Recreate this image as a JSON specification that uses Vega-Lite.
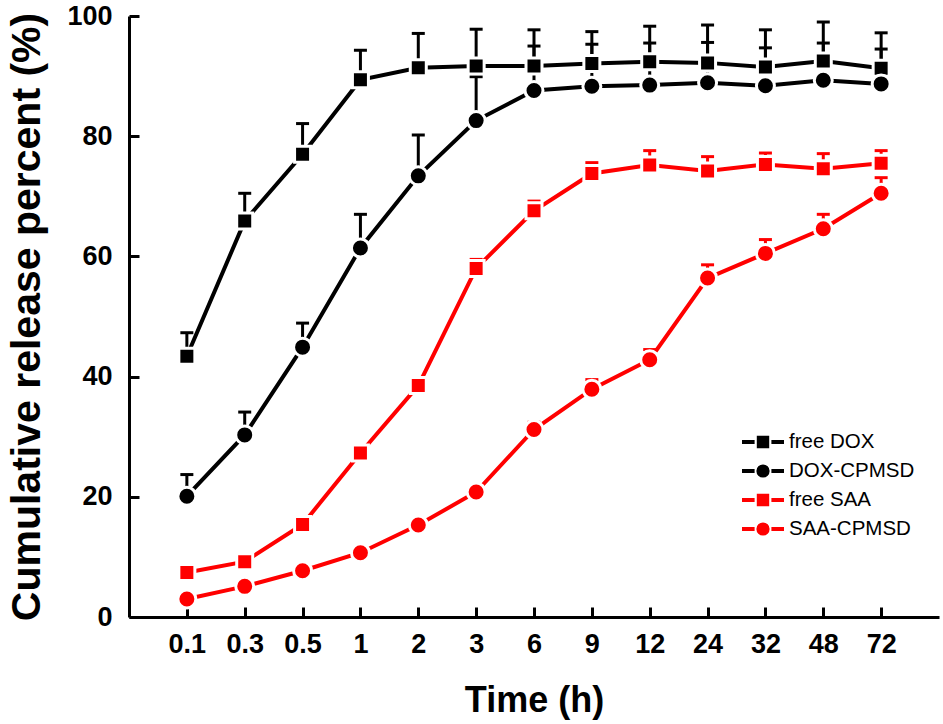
{
  "$schema": "https://vega.github.io/schema/vega-lite/v6.json",
  "width": 810,
  "height": 601,
  "autosize": {"type": "none"},
  "padding": {"left": 129, "top": 16, "right": 4, "bottom": 107},
  "background": "white",
  "config": {"view": {"stroke": null}, "font": "Liberation Sans"},
  "data": {
    "values": [
      {"time": "0.1", "series": "free DOX", "value": 43.4, "hi": 47.3},
      {"time": "0.3", "series": "free DOX", "value": 65.9, "hi": 70.5},
      {"time": "0.5", "series": "free DOX", "value": 77.0, "hi": 82.1},
      {"time": "1", "series": "free DOX", "value": 89.4, "hi": 94.3},
      {"time": "2", "series": "free DOX", "value": 91.4, "hi": 97.1},
      {"time": "3", "series": "free DOX", "value": 91.7, "hi": 97.8},
      {"time": "6", "series": "free DOX", "value": 91.7, "hi": 97.7},
      {"time": "9", "series": "free DOX", "value": 92.1, "hi": 97.4},
      {"time": "12", "series": "free DOX", "value": 92.4, "hi": 98.3},
      {"time": "24", "series": "free DOX", "value": 92.2, "hi": 98.5},
      {"time": "32", "series": "free DOX", "value": 91.5, "hi": 97.7},
      {"time": "48", "series": "free DOX", "value": 92.5, "hi": 99.0},
      {"time": "72", "series": "free DOX", "value": 91.3, "hi": 97.2},
      {"time": "0.1", "series": "DOX-CPMSD", "value": 20.1, "hi": 23.7},
      {"time": "0.3", "series": "DOX-CPMSD", "value": 30.3, "hi": 34.1},
      {"time": "0.5", "series": "DOX-CPMSD", "value": 44.9, "hi": 48.9},
      {"time": "1", "series": "DOX-CPMSD", "value": 61.4, "hi": 67.0},
      {"time": "2", "series": "DOX-CPMSD", "value": 73.4, "hi": 80.2},
      {"time": "3", "series": "DOX-CPMSD", "value": 82.6, "hi": 89.9},
      {"time": "6", "series": "DOX-CPMSD", "value": 87.6, "hi": 95.0},
      {"time": "9", "series": "DOX-CPMSD", "value": 88.3, "hi": 95.3},
      {"time": "12", "series": "DOX-CPMSD", "value": 88.5, "hi": 95.5},
      {"time": "24", "series": "DOX-CPMSD", "value": 88.9, "hi": 95.6},
      {"time": "32", "series": "DOX-CPMSD", "value": 88.4, "hi": 94.7},
      {"time": "48", "series": "DOX-CPMSD", "value": 89.3, "hi": 95.5},
      {"time": "72", "series": "DOX-CPMSD", "value": 88.7, "hi": 94.5},
      {"time": "0.1", "series": "free SAA", "value": 7.4, "hi": 7.9},
      {"time": "0.3", "series": "free SAA", "value": 9.2, "hi": 9.7},
      {"time": "0.5", "series": "free SAA", "value": 15.4, "hi": 15.9},
      {"time": "1", "series": "free SAA", "value": 27.3, "hi": 27.9},
      {"time": "2", "series": "free SAA", "value": 38.5, "hi": 39.4},
      {"time": "3", "series": "free SAA", "value": 58.0, "hi": 59.5},
      {"time": "6", "series": "free SAA", "value": 67.6, "hi": 69.2},
      {"time": "9", "series": "free SAA", "value": 73.8, "hi": 75.6},
      {"time": "12", "series": "free SAA", "value": 75.2, "hi": 77.6},
      {"time": "24", "series": "free SAA", "value": 74.2, "hi": 76.6},
      {"time": "32", "series": "free SAA", "value": 75.3, "hi": 77.2},
      {"time": "48", "series": "free SAA", "value": 74.6, "hi": 77.1},
      {"time": "72", "series": "free SAA", "value": 75.5, "hi": 77.6},
      {"time": "0.1", "series": "SAA-CPMSD", "value": 3.0, "hi": 3.3},
      {"time": "0.3", "series": "SAA-CPMSD", "value": 5.1, "hi": 5.5},
      {"time": "0.5", "series": "SAA-CPMSD", "value": 7.7, "hi": 8.3},
      {"time": "1", "series": "SAA-CPMSD", "value": 10.7, "hi": 11.1},
      {"time": "2", "series": "SAA-CPMSD", "value": 15.3, "hi": 15.7},
      {"time": "3", "series": "SAA-CPMSD", "value": 20.8, "hi": 21.6},
      {"time": "6", "series": "SAA-CPMSD", "value": 31.2, "hi": 32.4},
      {"time": "9", "series": "SAA-CPMSD", "value": 37.9, "hi": 39.5},
      {"time": "12", "series": "SAA-CPMSD", "value": 42.8, "hi": 44.5},
      {"time": "24", "series": "SAA-CPMSD", "value": 56.4, "hi": 58.6},
      {"time": "32", "series": "SAA-CPMSD", "value": 60.5, "hi": 62.8},
      {"time": "48", "series": "SAA-CPMSD", "value": 64.6, "hi": 67.0},
      {"time": "72", "series": "SAA-CPMSD", "value": 70.5, "hi": 73.1}
    ]
  },
  "encoding": {
    "x": {
      "field": "time",
      "type": "ordinal",
      "sort": ["0.1", "0.3", "0.5", "1", "2", "3", "6", "9", "12", "24", "32", "48", "72"],
      "scale": {"type": "point", "padding": 1},
      "axis": {
        "title": "Time (h)",
        "labelAngle": 0,
        "domainColor": "black",
        "domainWidth": 3,
        "tickColor": "black",
        "tickWidth": 3,
        "tickSize": -10,
        "labelFont": "Liberation Sans",
        "labelFontWeight": "bold",
        "labelFontSize": 27,
        "labelColor": "black",
        "labelPadding": 24,
        "titleFont": "Liberation Sans",
        "titleFontWeight": "bold",
        "titleFontSize": 36,
        "titleColor": "black",
        "titlePadding": 26
      }
    },
    "color": {
      "field": "series",
      "type": "nominal",
      "scale": {
        "domain": ["free DOX", "DOX-CPMSD", "free SAA", "SAA-CPMSD"],
        "range": ["#000000", "#000000", "#ff0000", "#ff0000"]
      },
      "legend": {
        "orient": "none",
        "legendX": 618,
        "legendY": 410,
        "title": null,
        "padding": 0,
        "gridAlign": "all",
        "symbolSize": 784,
        "symbolStrokeWidth": 4,
        "symbolOpacity": 1,
        "symbolType": {"expr": "(datum.value == 'free DOX' || datum.value == 'free SAA') ? 'M-1.5,0H-0.6M0.6,0H1.5M-0.3,-0.3H0.3V0.3H-0.3Z' : 'M-1.5,0H-0.6M0.6,0H1.5M-0.33,0A0.33,0.33,0,1,1,0.33,0A0.33,0.33,0,1,1,-0.33,0Z'"},
        "symbolFillColor": {"expr": "scale('color', datum.value)"},
        "symbolStrokeColor": {"expr": "scale('color', datum.value)"},
        "labelFont": "Liberation Sans",
        "labelFontSize": 20.5,
        "labelColor": "black",
        "labelOffset": 10,
        "rowPadding": -1
      }
    }
  },
  "layer": [
    {
      "mark": {"type": "line", "strokeWidth": 4},
      "encoding": {
        "y": {
          "field": "value",
          "type": "quantitative",
          "title": "Cumulative release percent (%)",
          "scale": {"domain": [0, 100], "nice": false, "zero": true},
          "axis": {
            "values": [0, 20, 40, 60, 80, 100],
            "grid": false,
            "domainColor": "black",
            "domainWidth": 3,
            "tickColor": "black",
            "tickWidth": 3,
            "tickSize": -10,
            "labelFont": "Liberation Sans",
            "labelFontWeight": "bold",
            "labelFontSize": 27,
            "labelColor": "black",
            "labelPadding": 27,
            "titleFont": "Liberation Sans",
            "titleFontWeight": "bold",
            "titleFontSize": 41,
            "titleColor": "black",
            "titlePadding": 18
          }
        }
      }
    },
    {
      "mark": {"type": "rule", "strokeWidth": 3},
      "encoding": {
        "y": {"field": "value", "type": "quantitative", "title": "Cumulative release percent (%)"},
        "y2": {"field": "hi"}
      }
    },
    {
      "mark": {"type": "tick", "thickness": 3, "size": 13, "opacity": 1},
      "encoding": {
        "y": {"field": "hi", "type": "quantitative", "title": "Cumulative release percent (%)"}
      }
    },
    {
      "transform": [{"filter": {"field": "series", "oneOf": ["free DOX", "free SAA"]}}],
      "mark": {"type": "point", "shape": "square", "size": 256, "filled": true, "opacity": 1, "stroke": "white", "strokeWidth": 3, "strokeOpacity": 1},
      "encoding": {
        "y": {"field": "value", "type": "quantitative", "title": "Cumulative release percent (%)"}
      }
    },
    {
      "transform": [{"filter": {"field": "series", "oneOf": ["DOX-CPMSD", "SAA-CPMSD"]}}],
      "mark": {"type": "point", "shape": "circle", "size": 324, "filled": true, "opacity": 1, "stroke": "white", "strokeWidth": 3, "strokeOpacity": 1},
      "encoding": {
        "y": {"field": "value", "type": "quantitative", "title": "Cumulative release percent (%)"}
      }
    }
  ]
}
